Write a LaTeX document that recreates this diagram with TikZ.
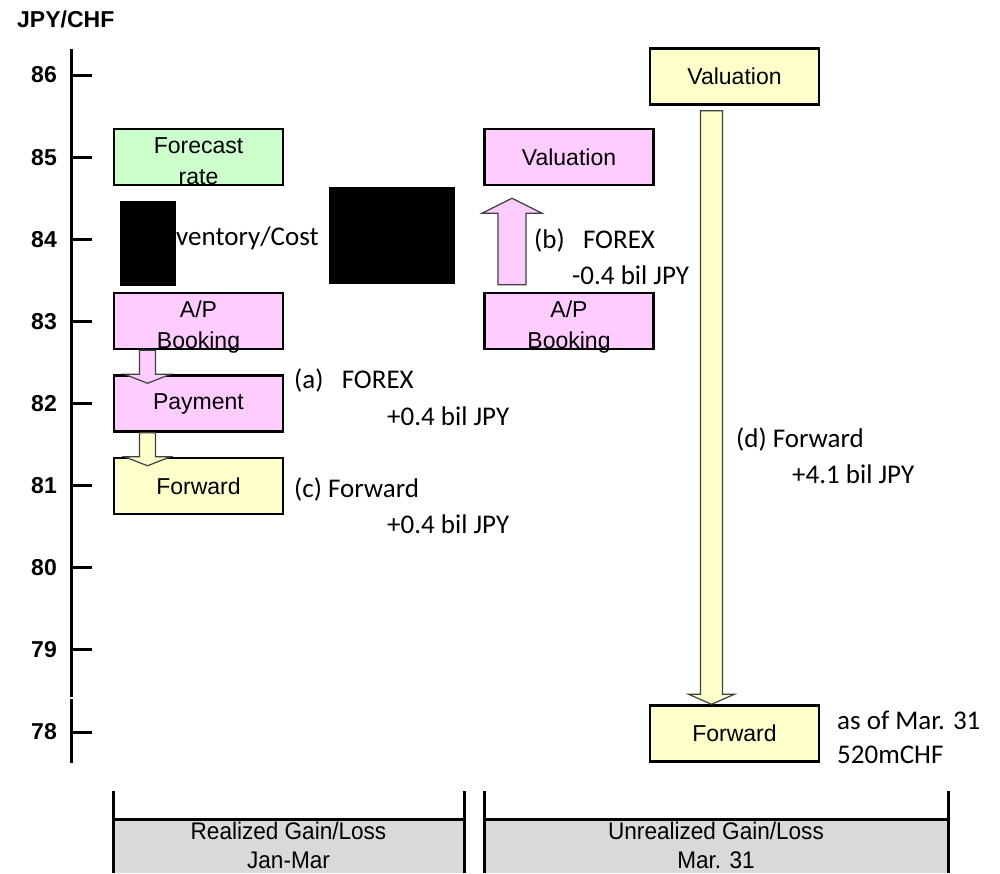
\documentclass[tikz,border=0pt]{standalone}
\usepackage{fontspec}
\setmainfont{Liberation Sans}
\newfontfamily\calibri{Carlito}
\newfontfamily\narrowsans[FakeStretch=0.94]{Liberation Sans}
\usetikzlibrary{positioning,calc}

\definecolor{fxpink}{HTML}{FFCCFF}
\definecolor{fxgreen}{HTML}{CCFFCC}
\definecolor{fxyellow}{HTML}{FFFFCC}
\definecolor{panelgray}{HTML}{D9D9D9}

% vertical block arrow: tail, tip, half shaft, half head, head length, fill
\newcommand{\blockarrow}[6]{%
  \path[blockarrow, fill=#6] let \p1=(#1), \p2=(#2), \p3=($(#2)!#5!(#1)$) in
    (\x1-#3,\y1) -- (\x1-#3,\y3) -- (\x1-#4,\y3) -- (\x2,\y2)
    -- (\x1+#4,\y3) -- (\x1+#3,\y3) -- (\x1+#3,\y1) -- cycle;}

\begin{document}
\begin{tikzpicture}[x=1pt,y=-1pt]
    \tikzset{box/.style={
      draw,
      rectangle,
      line width=2.5pt,
      align=center,
      inner sep=0pt,
      minimum width=169pt,
      minimum height=56pt,
      font=\fontsize{23}{31}\selectfont
    },
    twoline/.style={text height=55pt, text depth=0pt},
    note/.style={anchor=base west, inner sep=0pt, font=\calibri\fontsize{27}{33}\selectfont},
    blockarrow/.style={draw=black!75, line width=1.2pt, line join=miter},
    axis/.style={line width=3pt}};

    \useasboundingbox (0,0) rectangle (1000,873);

    % rate axis
    \node [anchor=base west, inner sep=0pt, font=\bfseries\fontsize{23}{23}\selectfont] (unit) at (17,27) {JPY/CHF};
    \draw [axis] (71,49) -- (71,697) (71,699) -- (71,763);
    \foreach \v in {78,...,86} {
      \pgfmathsetmacro\ty{75+(86-\v)*82.125}
      \draw [axis] (71,\ty) -- (92,\ty);
      \node [anchor=east, inner sep=0pt, font=\bfseries\fontsize{23}{23}\selectfont] (tick\v) at (57,\ty) {\v};
    }

    % realized side
    \node [box, twoline, fill=fxgreen] (forecast) at (198.5,157) {Forecast\\rate};
    \node [note] (cost) at (176,245) {ventory/Cost};
    \fill (120,201) rectangle (176,286);
    \fill (329,187) rectangle (455,284);
    \node [box, twoline, fill=fxpink] (apbook) at (198.5,321) {A/P\\Booking};
    \node [box, fill=fxpink, below=24pt of apbook] (payment) {Payment};
    \node [box, fill=fxyellow, below=24pt of payment] (fwdleft) {Forward};

    % unrealized side
    \node [box, fill=fxpink, right=199pt of forecast] (valpink) {Valuation};
    \node [box, twoline, fill=fxpink, right=199pt of apbook] (apbookright) {A/P\\Booking};
    \node [box, fill=fxyellow] (valyellow) at (734.5,76.5) {Valuation};
    \node [box, fill=fxyellow] (fwdright) at (734.5,733.5) {Forward};

    \coordinate (tailA) at ([xshift=-51pt]apbook.south);
    \coordinate (tipA) at ([xshift=-51pt,yshift=-9pt]payment.north);
    \coordinate (tailC) at ([xshift=-51pt]payment.south);
    \coordinate (tipC) at ([xshift=-51pt,yshift=-9pt]fwdleft.north);
    \coordinate (tailB) at ([xshift=-57pt,yshift=7pt]apbookright.north);
    \coordinate (tipB) at ([xshift=-57pt,yshift=-12pt]valpink.south);
    \coordinate (tailD) at ([xshift=-23pt,yshift=-5pt]valyellow.south);
    \coordinate (tipD) at ([xshift=-23pt]fwdright.north);

    \blockarrow{tailA}{tipA}{8pt}{23pt}{9pt}{fxpink}
    \blockarrow{tailC}{tipC}{8pt}{23pt}{9pt}{fxyellow}
    \blockarrow{tailB}{tipB}{14pt}{30pt}{15pt}{fxpink}
    \blockarrow{tailD}{tipD}{11pt}{23pt}{10pt}{fxyellow}

    \node [note] (forexa) at (294,388) {(a)\ \ \ FOREX};
    \node [note] (gaina) at (387,425) {+0.4 bil JPY};
    \node [note] (forexb) at (534,248) {(b)\ \ \ FOREX};
    \node [note] (lossb) at (572,284) {-0.4 bil JPY};
    \node [note] (fwdc) at (294,497) {(c) Forward};
    \node [note] (gainc) at (387,533) {+0.4 bil JPY};
    \node [note] (fwdd) at (736,447) {(d) Forward};
    \node [note] (gaind) at (792,483) {+4.1 bil JPY};
    \node [note] (asof) at (837,729) {as of Mar. 31};
    \node [note] (amount) at (837,763) {520mCHF};

    % gain/loss panels
    \fill [panelgray] (113,819) rectangle (464,873);
    \fill [panelgray] (484,819) rectangle (948,873);
    \draw [axis] (113,791) -- (113,873) (113,819) -- (464,819) (464,791) -- (464,873);
    \draw [axis] (484,791) -- (484,873) (484,819) -- (948,819) (948,791) -- (948,873);
    \node [align=center, font=\narrowsans\fontsize{24}{29}\selectfont] (realized) at (288.5,845.5) {Realized Gain/Loss\\Jan-Mar};
    \node [align=center, font=\narrowsans\fontsize{24}{29}\selectfont] (unrealized) at (716,845.5) {Unrealized Gain/Loss\\Mar. 31};
  \end{tikzpicture}
\end{document}
